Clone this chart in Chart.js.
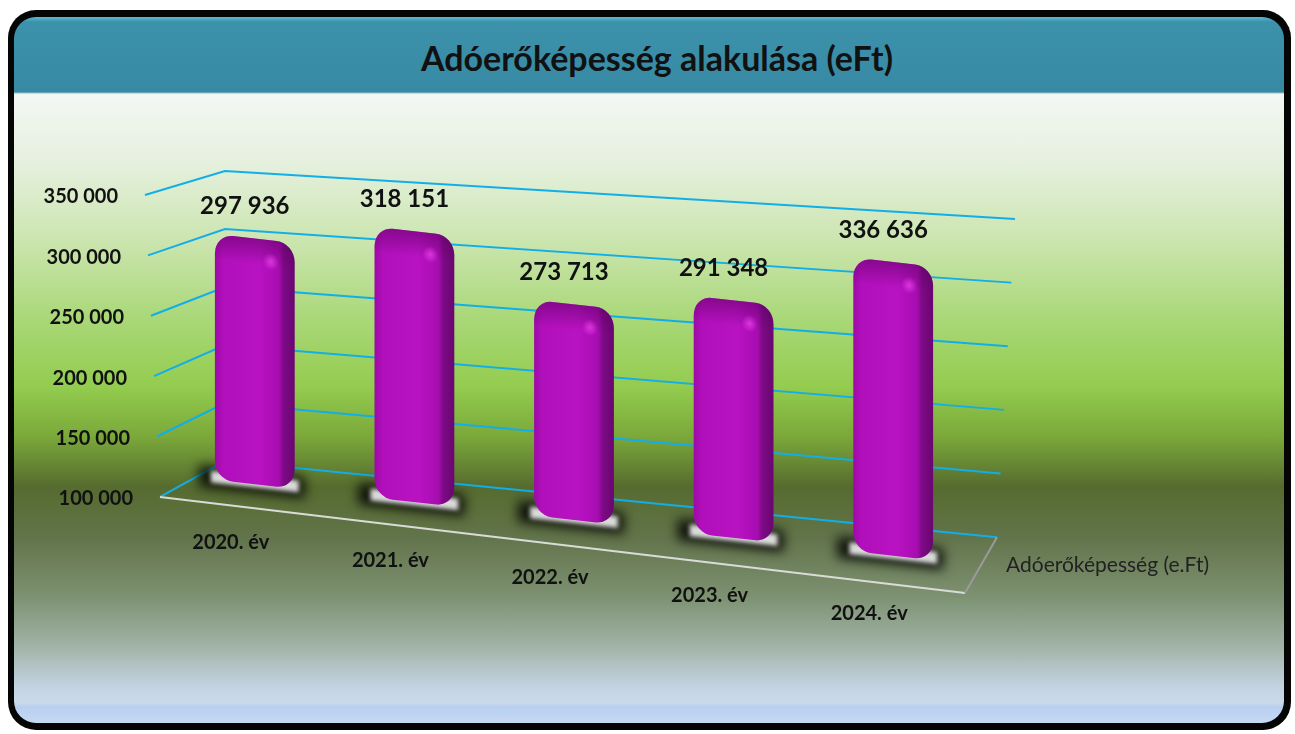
<!DOCTYPE html>
<html>
<head>
<meta charset="utf-8">
<script src="https://cdn.jsdelivr.net/npm/chart.js@4.4.1/dist/chart.umd.min.js"></script>
<style>
    html, body { margin: 0; padding: 0; background: #fff; width: 1295px; height: 734px; overflow: hidden; }
    #frame { position: absolute; left: 8px; top: 10px; width: 1283px; height: 720px; border-radius: 28px; background: #050505; }
    #panel {
        position: absolute; left: 14px; top: 17px; width: 1270px; height: 706px; border-radius: 22px;
        background: linear-gradient(to bottom,
            #5bb9d0 0px, #3c91ab 5px, #388aa4 75px, #f4f7f5 77px,
            #e4f0dc 150px, #c9e4ab 230px, #aad879 300px, #93cc4e 370px,
            #7aa83a 420px, #566b2f 470px, #62744a 520px, #7d9272 580px,
            #a2b4a8 630px, #c4d3e2 670px, #cbd9ea 686px, #b7cfef 690px, #c6daf4 706px);
    }
    #title {
        position: absolute; left: 22px; top: 37px; width: 1270px; height: 40px; line-height: 40px;
        text-align: center; font: bold 34px Lato, "Open Sans", sans-serif; color: #111;
    }
    #c { position: absolute; left: 0; top: 0; }
</style>
</head>
<body>
<div id="frame"></div>
<div id="panel"></div>
<div id="title">Adóerőképesség alakulása (eFt)</div>
<canvas id="c" width="1295" height="734"></canvas>
<script>
    const years = ['2020. év', '2021. év', '2022. év', '2023. év', '2024. év'];
    const values = [297936, 318151, 273713, 291348, 336636];
    const yTicks = [100000, 150000, 200000, 250000, 300000, 350000];
    const seriesName = 'Adóerőképesség (e.Ft)';

    // fake 3D: bars get skewed down to the right, grid gets its own slant
    const K = 0.112, S = 1.07, F = -37.6;
    const toScreen = (x, y) => ({ x: x, y: K * x + S * y + F });

    function fmt(v) {
        return String(v).replace(/\B(?=(\d{3})+(?!\d))/g, ' ');
    }

    function barFill(c) {
        const chart = c.chart;
        const ca = chart.chartArea;
        if (!ca) return '#b10fba';
        const x = chart.scales.x.getPixelForValue(c.dataIndex);
        const w = (ca.right - ca.left) / years.length * 0.5;
        const g = chart.ctx.createLinearGradient(x - w / 2, 0, x + w / 2, 0);
        g.addColorStop(0, '#9c0aa6');
        g.addColorStop(0.1, '#b10fbb');
        g.addColorStop(0.55, '#b912c2');
        g.addColorStop(0.8, '#a70db0');
        g.addColorStop(0.86, '#7d0a85');
        g.addColorStop(1, '#6a0671');
        return g;
    }

    const perspective = {
        id: 'perspective',
        beforeDraw(chart) {
            const ctx = chart.ctx, ca = chart.chartArea, y = chart.scales.y;
            const h = ca.bottom - ca.top;
            const wall = v => {
                const yl = y.getPixelForValue(v);
                const t = (yl - ca.top) / h;
                return {
                    bx: ca.left + 50, by: yl,
                    rx: ca.right + 42 - t * 18, ry: ca.top + 48 + (yl - ca.top) * 1.097,
                    fx: ca.left - 30 + t * 15, fy: ca.top + 24 + (yl - ca.top) * 1.041
                };
            };
            ctx.save();
            ctx.lineWidth = 2;
            ctx.strokeStyle = '#12aee8';
            yTicks.forEach(v => {
                const p = wall(v);
                ctx.beginPath();
                ctx.moveTo(p.fx, p.fy);
                ctx.lineTo(p.bx, p.by);
                ctx.lineTo(p.rx, p.ry);
                ctx.stroke();
            });
            // floor edges
            const b = wall(yTicks[0]);
            ctx.strokeStyle = '#d9dcd6';
            ctx.beginPath();
            ctx.moveTo(b.fx, b.fy);
            ctx.lineTo(ca.right - 8, b.fy + 96);
            ctx.stroke();
            ctx.strokeStyle = '#9a9a9a';
            ctx.beginPath();
            ctx.moveTo(ca.right - 8, b.fy + 96);
            ctx.lineTo(b.rx, b.ry);
            ctx.stroke();
            // tick labels
            ctx.fillStyle = '#111';
            ctx.font = 'bold 20px Lato, "Open Sans", sans-serif';
            ctx.textAlign = 'right';
            ctx.textBaseline = 'middle';
            yTicks.forEach(v => {
                const p = wall(v);
                ctx.fillText(fmt(v), p.fx - 27, p.fy + 2);
            });
            ctx.restore();
        },
        beforeDatasetsDraw(chart) {
            const ctx = chart.ctx;
            ctx.save();
            ctx.transform(1, K, 0, S, 0, F);
            chart.getDatasetMeta(0).data.forEach(bar => {
                const l = bar.x - bar.width / 2;
                ctx.save();
                ctx.filter = 'blur(6px)';
                ctx.fillStyle = 'rgba(0,0,0,0.85)';
                ctx.fillRect(l - 16, bar.base - 12, bar.width + 26, 20);
                ctx.filter = 'blur(2px)';
                ctx.fillStyle = '#dadada';
                ctx.fillRect(l - 4, bar.base - 8, bar.width + 8, 11);
                ctx.restore();
            });
        },
        afterDatasetsDraw(chart) {
            const ctx = chart.ctx;
            // darker top face of each bar
            chart.getDatasetMeta(0).data.forEach(bar => {
                const g = ctx.createLinearGradient(0, bar.y, 0, bar.y + 24);
                g.addColorStop(0, 'rgba(90,0,95,0.5)');
                g.addColorStop(1, 'rgba(90,0,95,0)');
                ctx.fillStyle = g;
                ctx.beginPath();
                ctx.roundRect(bar.x - bar.width / 2, bar.y, bar.width, 24, [18, 18, 0, 0]);
                ctx.fill();
                const hx = bar.x + bar.width * 0.2, hy = bar.y + 20;
                const hg = ctx.createRadialGradient(hx, hy, 0, hx, hy, 8);
                hg.addColorStop(0, 'rgba(255,80,255,0.6)');
                hg.addColorStop(1, 'rgba(255,80,255,0)');
                ctx.fillStyle = hg;
                ctx.fillRect(hx - 10, hy - 10, 20, 20);
            });
            ctx.restore();
            ctx.save();
            ctx.fillStyle = '#111';
            ctx.textAlign = 'center';
            ctx.textBaseline = 'middle';
            chart.getDatasetMeta(0).data.forEach((bar, i) => {
                const top = toScreen(bar.x, bar.y);
                const bot = toScreen(bar.x, bar.base);
                ctx.font = 'bold 24px Lato, "Open Sans", sans-serif';
                ctx.fillText(fmt(values[i]), bar.x - 10, top.y - 32);
                ctx.font = 'bold 20px Lato, "Open Sans", sans-serif';
                ctx.fillText(years[i], bar.x - 24, bot.y + 58);
            });
            const ca = chart.chartArea;
            ctx.textAlign = 'left';
            ctx.font = '21px Lato, "Open Sans", sans-serif';
            ctx.fillStyle = '#222';
            ctx.fillText(chart.data.datasets[0].label, ca.right + 33, ca.bottom + 104);
            ctx.restore();
        }
    };

    new Chart(document.getElementById('c'), {
        type: 'bar',
        data: {
            labels: years,
            datasets: [{
                label: seriesName,
                data: values,
                base: yTicks[0],
                clip: false,
                backgroundColor: barFill,
                borderRadius: 18,
                borderSkipped: false,
                barPercentage: 0.5,
                categoryPercentage: 1
            }]
        },
        options: {
            responsive: false,
            animation: false,
            layout: { padding: { left: 175, right: 322, top: 171, bottom: 273 } },
            scales: {
                x: { display: false },
                y: {
                    display: false,
                    min: 100000,
                    max: 350000,
                    afterBuildTicks: axis => { axis.ticks = yTicks.map(v => ({ value: v })); }
                }
            },
            plugins: {
                legend: { display: false },
                tooltip: { enabled: false }
            }
        },
        plugins: [perspective]
    });
</script>
</body>
</html>
